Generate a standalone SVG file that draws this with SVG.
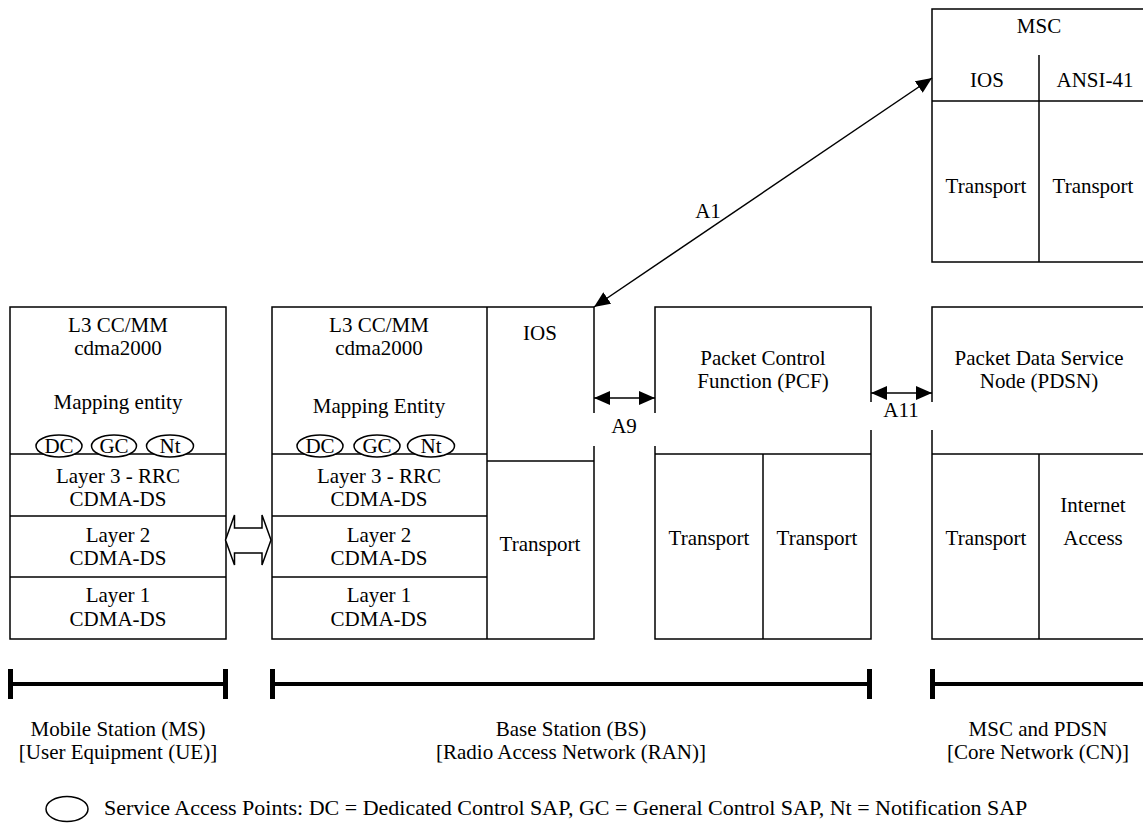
<svg xmlns="http://www.w3.org/2000/svg" width="1143" height="823" viewBox="0 0 1143 823">
<style>
text{font-family:"Liberation Serif","Times New Roman",serif;font-size:21px;fill:#000;text-anchor:middle}
.box{fill:#fff;stroke:#000;stroke-width:1.5}
.ln{stroke:#000;stroke-width:1.5;fill:none}
.sap{fill:#fff;stroke:#000;stroke-width:1.5}
.conn{stroke:#000;stroke-width:1.5;fill:none;marker-start:url(#ah);marker-end:url(#ah)}
.bk{stroke:#000;stroke-width:4;fill:none}
.bar{stroke:#000;stroke-width:5;fill:none}
.lt{text-anchor:start;font-size:22px}
</style>
<defs>
<marker id="ah" markerUnits="userSpaceOnUse" markerWidth="16" markerHeight="14" refX="16" refY="7" orient="auto-start-reverse">
<path d="M0,0 L16,7 L0,14 z" fill="#000"/>
</marker>
</defs>
<rect width="1143" height="823" fill="#fff"/>

<g id="ms">
<rect class="box" x="10" y="307" width="216" height="332"/>
<line class="ln" x1="10" y1="454" x2="226" y2="454"/>
<line class="ln" x1="10" y1="516" x2="226" y2="516"/>
<line class="ln" x1="10" y1="577" x2="226" y2="577"/>
<text x="118" y="332">L3 CC/MM</text>
<text x="118" y="355">cdma2000</text>
<text x="118" y="409">Mapping entity</text>
<ellipse class="sap" cx="59" cy="446" rx="23" ry="11"/>
<ellipse class="sap" cx="114" cy="446" rx="22.5" ry="11"/>
<ellipse class="sap" cx="170" cy="446" rx="23.5" ry="11"/>
<text x="59" y="453">DC</text>
<text x="114" y="453">GC</text>
<text x="170" y="453">Nt</text>
<text x="118" y="483">Layer 3 - RRC</text>
<text x="118" y="506">CDMA-DS</text>
<text x="118" y="542">Layer 2</text>
<text x="118" y="565">CDMA-DS</text>
<text x="118" y="602">Layer 1</text>
<text x="118" y="626">CDMA-DS</text>
</g>

<g id="bs">
<rect class="box" x="272" y="307" width="322" height="332"/>
<line class="ln" x1="487" y1="307" x2="487" y2="639"/>
<line class="ln" x1="272" y1="454" x2="487" y2="454"/>
<line class="ln" x1="272" y1="516" x2="487" y2="516"/>
<line class="ln" x1="272" y1="577" x2="487" y2="577"/>
<line class="ln" x1="487" y1="461" x2="594" y2="461"/>
<text x="379" y="332">L3 CC/MM</text>
<text x="379" y="355">cdma2000</text>
<text x="379" y="413">Mapping Entity</text>
<ellipse class="sap" cx="320" cy="446" rx="23" ry="11"/>
<ellipse class="sap" cx="377" cy="446" rx="23" ry="11"/>
<ellipse class="sap" cx="431" cy="446" rx="23.5" ry="11"/>
<text x="320" y="453">DC</text>
<text x="377" y="453">GC</text>
<text x="431" y="453">Nt</text>
<text x="379" y="483">Layer 3 - RRC</text>
<text x="379" y="506">CDMA-DS</text>
<text x="379" y="542">Layer 2</text>
<text x="379" y="565">CDMA-DS</text>
<text x="379" y="602">Layer 1</text>
<text x="379" y="626">CDMA-DS</text>
<text x="540" y="340">IOS</text>
<text x="540" y="551">Transport</text>
</g>

<g id="pcf">
<rect class="box" x="655" y="307" width="216" height="332"/>
<line class="ln" x1="655" y1="454" x2="871" y2="454"/>
<line class="ln" x1="763" y1="454" x2="763" y2="639"/>
<text x="763" y="365">Packet Control</text>
<text x="763" y="388">Function (PCF)</text>
<text x="709" y="545">Transport</text>
<text x="817" y="545">Transport</text>
</g>

<g id="pdsn">
<rect class="box" x="932" y="307" width="230" height="332"/>
<line class="ln" x1="932" y1="454" x2="1143" y2="454"/>
<line class="ln" x1="1039" y1="454" x2="1039" y2="639"/>
<text x="1039" y="365">Packet Data Service</text>
<text x="1039" y="388">Node (PDSN)</text>
<text x="986" y="545">Transport</text>
<text x="1093" y="512">Internet</text>
<text x="1093" y="545">Access</text>
</g>

<g id="msc">
<rect class="box" x="932" y="9" width="230" height="253"/>
<line class="ln" x1="932" y1="101" x2="1143" y2="101"/>
<line class="ln" x1="1039" y1="55" x2="1039" y2="262"/>
<text x="1039" y="33">MSC</text>
<text x="987" y="87">IOS</text>
<text x="1095" y="87">ANSI-41</text>
<text x="986" y="193">Transport</text>
<text x="1093" y="193">Transport</text>
</g>

<g id="connectors">
<line class="conn" x1="594" y1="307" x2="932" y2="78"/>
<text x="708" y="218">A1</text>
<line class="conn" x1="594" y1="398" x2="655" y2="398"/>
<rect x="592" y="413" width="65" height="33" fill="#fff"/>
<text x="624" y="433">A9</text>
<line class="conn" x1="871" y1="393" x2="932" y2="393"/>
<rect x="869" y="402" width="65" height="28" fill="#fff"/>
<text x="901" y="417">A11</text>
<path class="box" d="M225.5,540 L234.5,515 L234.5,528 L262,528 L262,515 L271,540 L262,565 L262,553 L234.5,553 L234.5,565 Z"/>
</g>

<g id="brackets">
<line class="bk" x1="10" y1="684" x2="226" y2="684"/>
<line class="bar" x1="10.5" y1="669" x2="10.5" y2="699"/>
<line class="bar" x1="225.5" y1="669" x2="225.5" y2="699"/>
<text x="118" y="736">Mobile Station (MS)</text>
<text x="118" y="759">[User Equipment (UE)]</text>
<line class="bk" x1="272" y1="684" x2="870" y2="684"/>
<line class="bar" x1="272.5" y1="669" x2="272.5" y2="699"/>
<line class="bar" x1="869.5" y1="669" x2="869.5" y2="699"/>
<text x="571" y="736">Base Station (BS)</text>
<text x="571" y="759">[Radio Access Network (RAN)]</text>
<line class="bk" x1="932" y1="684" x2="1143" y2="684"/>
<line class="bar" x1="932.5" y1="669" x2="932.5" y2="699"/>
<text x="1038" y="736">MSC and PDSN</text>
<text x="1038" y="759">[Core Network (CN)]</text>
</g>

<g id="legend">
<ellipse class="sap" cx="67" cy="809" rx="21" ry="12.5"/>
<text class="lt" x="104" y="815">Service Access Points: DC = Dedicated Control SAP, GC = General Control SAP, Nt = Notification SAP</text>
</g>
</svg>
